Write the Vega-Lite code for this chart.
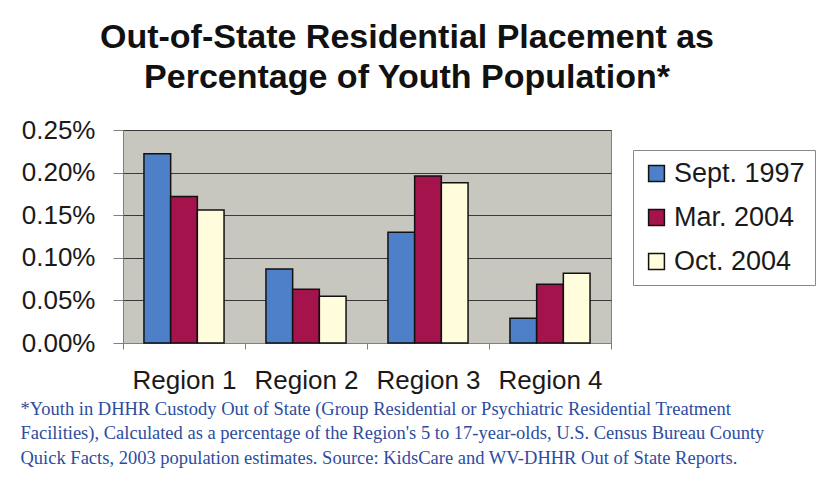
{
  "$schema": "https://vega.github.io/schema/vega-lite/v6.json",
  "autosize": "none",
  "width": 488,
  "height": 213,
  "padding": {"left": 123, "top": 130, "right": 205, "bottom": 135},
  "background": "white",
  "title": {
    "text": ["Out-of-State Residential Placement as", "Percentage of Youth Population*"],
    "font": "Liberation Sans",
    "fontSize": 34,
    "fontWeight": "bold",
    "color": "#111111",
    "lineHeight": 40,
    "anchor": "middle",
    "dx": 40,
    "offset": 22
  },
  "data": {
    "values": [
      {"region": "Region 1", "period": "Sept. 1997", "value": 0.00222},
      {"region": "Region 1", "period": "Mar. 2004", "value": 0.00172},
      {"region": "Region 1", "period": "Oct. 2004", "value": 0.00156},
      {"region": "Region 2", "period": "Sept. 1997", "value": 0.00087},
      {"region": "Region 2", "period": "Mar. 2004", "value": 0.00063},
      {"region": "Region 2", "period": "Oct. 2004", "value": 0.00055},
      {"region": "Region 3", "period": "Sept. 1997", "value": 0.00130},
      {"region": "Region 3", "period": "Mar. 2004", "value": 0.00196},
      {"region": "Region 3", "period": "Oct. 2004", "value": 0.00188},
      {"region": "Region 4", "period": "Sept. 1997", "value": 0.00029},
      {"region": "Region 4", "period": "Mar. 2004", "value": 0.00069},
      {"region": "Region 4", "period": "Oct. 2004", "value": 0.00082}
    ]
  },
  "mark": {"type": "bar", "stroke": "#111111", "strokeWidth": 1.5},
  "encoding": {
    "x": {
      "field": "region",
      "type": "nominal",
      "scale": {"paddingInner": 0, "paddingOuter": 0},
      "axis": {
        "labelAngle": 0,
        "labelFont": "Liberation Sans",
        "labelFontSize": 26,
        "labelColor": "#1a1a1a",
        "labelPadding": 18,
        "tickBand": "extent",
        "tickSize": 6,
        "tickColor": "#808080",
        "domainColor": "#808080",
        "title": [
          "*Youth in DHHR Custody Out of State (Group Residential or Psychiatric Residential Treatment",
          "Facilities), Calculated as a percentage of the Region's 5 to 17-year-olds, U.S. Census Bureau County",
          "Quick Facts, 2003 population estimates. Source: KidsCare and WV-DHHR Out of State Reports."
        ],
        "titleFont": "Liberation Serif",
        "titleFontSize": 18.5,
        "titleFontWeight": "normal",
        "titleColor": "#2c4c9f",
        "titleLineHeight": 24.5,
        "titleAnchor": "start",
        "titleAlign": "left",
        "titleBaseline": "alphabetic",
        "titleX": -103,
        "titleY": 71
      }
    },
    "xOffset": {
      "field": "period",
      "type": "nominal",
      "sort": ["Sept. 1997", "Mar. 2004", "Oct. 2004"],
      "scale": {"paddingInner": 0, "paddingOuter": 0.785}
    },
    "y": {
      "field": "value",
      "type": "quantitative",
      "scale": {"domain": [0, 0.0025]},
      "axis": {
        "format": ".2%",
        "values": [0, 0.0005, 0.001, 0.0015, 0.002, 0.0025],
        "labelFont": "Liberation Sans",
        "labelFontSize": 26,
        "labelColor": "#1a1a1a",
        "labelPadding": 18,
        "tickSize": 10,
        "tickColor": "#808080",
        "domain": false,
        "grid": true,
        "gridColor": "#3a3a3a",
        "gridWidth": 1,
        "title": null
      }
    },
    "color": {
      "field": "period",
      "type": "nominal",
      "sort": ["Sept. 1997", "Mar. 2004", "Oct. 2004"],
      "scale": {
        "domain": ["Sept. 1997", "Mar. 2004", "Oct. 2004"],
        "range": ["#4d80c9", "#a5134d", "#fffddb"]
      },
      "legend": {
        "title": null,
        "orient": "none",
        "legendX": 510,
        "legendY": 20,
        "padding": 10,
        "strokeColor": "#888888",
        "fillColor": "white",
        "symbolType": "square",
        "symbolSize": 250,
        "symbolStrokeColor": "#111111",
        "symbolStrokeWidth": 1.5,
        "labelFont": "Liberation Sans",
        "labelFontSize": 27,
        "labelColor": "#1a1a1a",
        "labelOffset": 4,
        "rowPadding": 16,
        "labelLimit": 300
      }
    }
  },
  "config": {
    "view": {"fill": "#c7c7bf", "stroke": "#808080", "strokeWidth": 1}
  }
}
